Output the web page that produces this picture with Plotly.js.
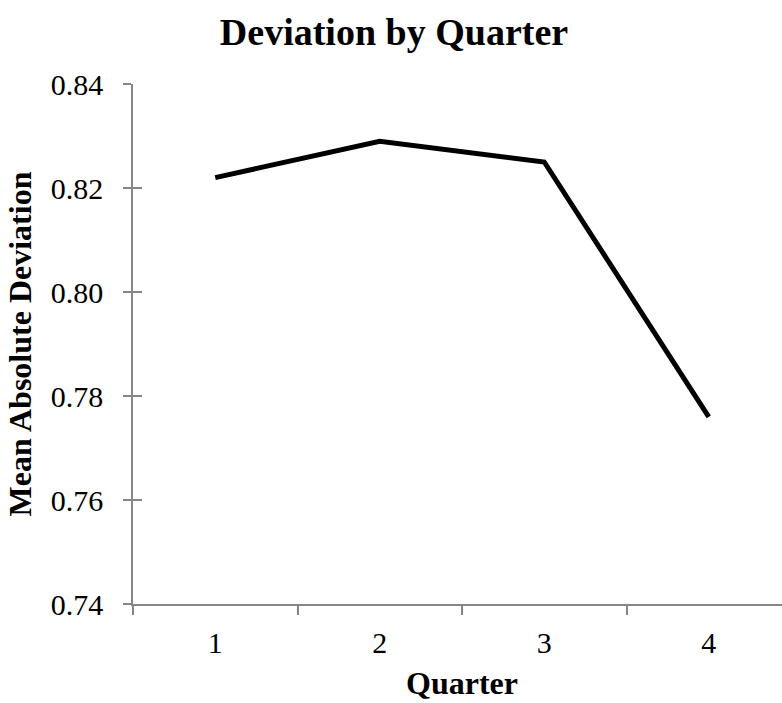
<!DOCTYPE html>
<html>
<head>
<meta charset="utf-8">
<script src="https://cdn.plot.ly/plotly-3.0.1.min.js"></script>
<style>
html, body { margin: 0; padding: 0; overflow: hidden; background: #fff; }
#chart { width: 800px; height: 703px; }
</style>
</head>
<body>
<div id="chart"></div>
<script>
const quarters = ["1", "2", "3", "4"];
const meanAbsDeviation = [0.822, 0.829, 0.825, 0.776];
const yTickValues = [0.74, 0.76, 0.78, 0.80, 0.82, 0.84];
const yTickLabels = ["0.74", "0.76", "0.78", "0.80", "0.82", "0.84"];

const serif = "Liberation Serif, Times New Roman, serif";
const axisGray = "#868686";

const data = [{
  type: "scatter",
  mode: "lines",
  x: quarters,
  y: meanAbsDeviation,
  line: { color: "#000000", width: 5 },
  hoverinfo: "x+y",
  showlegend: false
}, {
  // invisible helper trace so the overlaying axis (for crossing tick marks) is drawn
  type: "scatter", mode: "lines", x: quarters, y: meanAbsDeviation,
  yaxis: "y2", line: { color: "rgba(0,0,0,0)", width: 0 },
  hoverinfo: "skip", showlegend: false
}];

const layout = {
  width: 800,
  height: 703,
  margin: { l: 133, r: 9, t: 84, b: 99 },
  paper_bgcolor: "#ffffff",
  plot_bgcolor: "#ffffff",
  font: { family: serif, color: "#000000" },
  title: {
    text: "<b>Deviation by Quarter</b>",
    font: { family: serif, size: 38, color: "#000000" },
    xref: "container", x: 394 / 800, xanchor: "center",
    yref: "container", y: 1 - 32 / 703, yanchor: "middle"
  },
  xaxis: {
    type: "category",
    range: [-0.5, 3.5],
    tickson: "boundaries",
    ticks: "outside",
    ticklen: 9,
    tickwidth: 1.5,
    tickcolor: axisGray,
    showline: true,
    linecolor: axisGray,
    linewidth: 1.5,
    showgrid: false,
    zeroline: false,
    tickfont: { family: serif, size: 30, color: "#000000" },
    ticklabelstandoff: 11,
    title: {
      text: "<b>Quarter</b>",
      font: { family: serif, size: 32, color: "#000000" },
      standoff: 14
    },
    fixedrange: true
  },
  yaxis: {
    range: [0.74, 0.84],
    tickvals: yTickValues,
    ticktext: yTickLabels,
    ticks: "outside",
    ticklen: 8,
    tickwidth: 1.5,
    tickcolor: axisGray,
    showline: true,
    linecolor: axisGray,
    linewidth: 1.5,
    showgrid: false,
    zeroline: false,
    tickfont: { family: serif, size: 30, color: "#000000" },
    ticklabelstandoff: 14,
    title: {
      text: "<b>Mean Absolute Deviation</b>",
      font: { family: serif, size: 32, color: "#000000" },
      standoff: 10
    },
    fixedrange: true
  },
  yaxis2: {
    overlaying: "y",
    side: "left",
    range: [0.74, 0.84],
    tickvals: yTickValues,
    ticks: "inside",
    ticklen: 9,
    tickwidth: 1.5,
    tickcolor: axisGray,
    showticklabels: false,
    showline: false,
    showgrid: false,
    zeroline: false,
    fixedrange: true
  }
};

Plotly.newPlot("chart", data, layout, { displayModeBar: false, responsive: false });
</script>
</body>
</html>
